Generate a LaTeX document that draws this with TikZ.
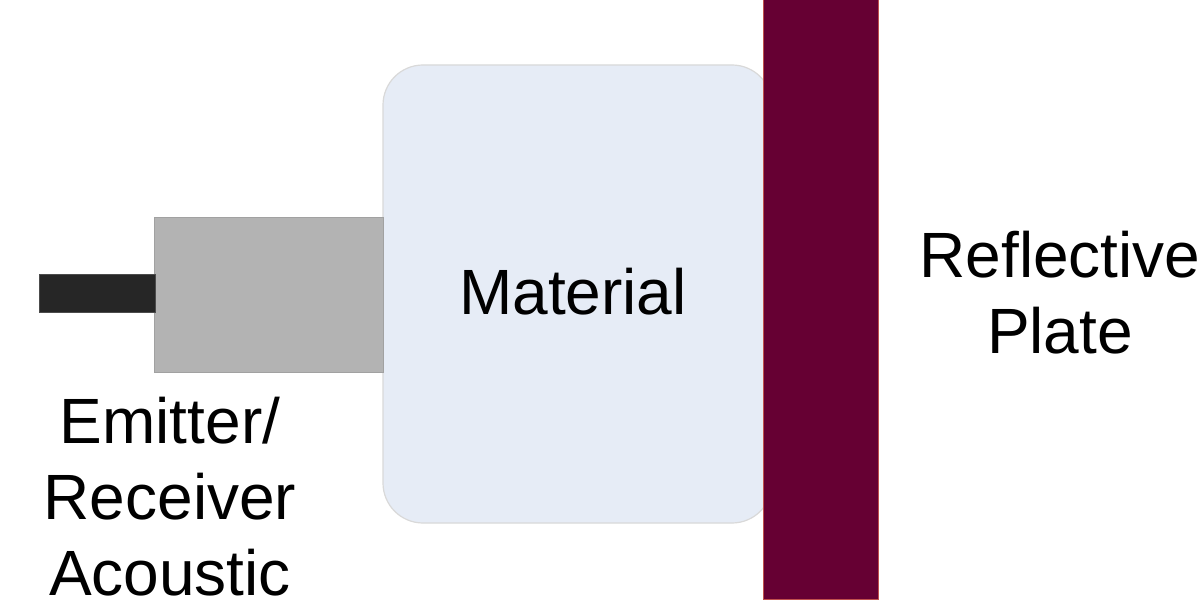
\documentclass[tikz,border=0pt]{standalone}
\usepackage{fontspec}
\setmainfont{Liberation Sans}
\definecolor{platecol}{HTML}{660033}
\definecolor{plateedge}{HTML}{C0504D}
\definecolor{matfill}{HTML}{E6ECF6}
\definecolor{matedge}{HTML}{D9D9D9}
\definecolor{graybox}{HTML}{B3B3B3}
\definecolor{darkbar}{HTML}{262626}
\begin{document}
\begin{tikzpicture}[x=1pt,y=-1pt,
  lbl/.style={font=\fontsize{64}{76}\selectfont, align=center, inner sep=0pt}]
\useasboundingbox (0,0) rectangle (1204,601);
\fill[white] (0,0) rectangle (1204,601);
% material
\draw[matedge, fill=matfill, line width=1.2pt, rounded corners=40pt] (383,65) rectangle (772,523);
% gray housing
\draw[graybox!90!black, fill=graybox, line width=0.8pt] (154,217) rectangle (383,372);
% dark bar
\draw[black!70, fill=darkbar, line width=1pt] (39,275) rectangle (155,313);
% plate
\draw[plateedge, fill=platecol, line width=0.8pt] (763,-2) rectangle (878,599);
\node[lbl, anchor=base] (mat) at (573,315) {Material};
\node[lbl, anchor=base] (emit) at (170,595) {Emitter/\\Receiver\\Acoustic};
\node[lbl, anchor=base] (refl) at (1060,353) {Reflective\\Plate};
\end{tikzpicture}
\end{document}
